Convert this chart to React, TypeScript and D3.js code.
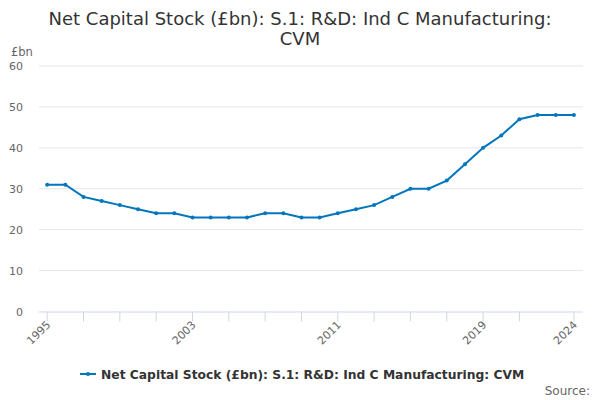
import React from 'react';
import * as d3 from 'd3';

const years = d3.range(1995, 2025);
const values = [31, 31, 28, 27, 26, 25, 24, 24, 23, 23, 23, 23, 24, 24, 23, 23, 24, 25, 26, 28, 30, 30, 32, 36, 40, 43, 47, 48, 48, 48];
const yTicks = [0, 10, 20, 30, 40, 50, 60];
const xTicks = [1995, 1997, 1999, 2001, 2003, 2005, 2007, 2009, 2011, 2013, 2015, 2017, 2019, 2021, 2024];
const xLabels = [1995, 2003, 2011, 2019, 2024];

const title = ['Net Capital Stock (£bn): S.1: R&D: Ind C Manufacturing:', 'CVM'];
const seriesName = 'Net Capital Stock (£bn): S.1: R&D: Ind C Manufacturing: CVM';

const font = '"DejaVu Sans", sans-serif';
const lineColor = '#0076bd';

const App = () => {
  const margin = { top: 66, right: 17, bottom: 88.5, left: 39 };
  const width = 600;
  const height = 400;

  const x = d3.scaleLinear().domain([1994.55, 2024.5]).range([margin.left, width - margin.right]);
  const y = d3.scaleLinear().domain([0, 60]).range([height - margin.bottom, margin.top]);

  const line = d3
    .line<number>()
    .x((d, i) => x(years[i]))
    .y((d) => y(d));

  return (
    <svg width={width} height={height} style={{ position: 'absolute', left: 0, top: 0, fontFamily: font }}>
      <rect width={width} height={height} fill="#fff" />
      {title.map((t, i) => (
        <text key={i} x={width / 2} y={25 + i * 20} textAnchor="middle" fontSize={18} fill="#333">
          {t}
        </text>
      ))}
      <text x={11} y={56} fontSize={11.5} fill="#666">
        £bn
      </text>
      {yTicks.map((t) => (
        <g key={t}>
          {t > 0 && <line x1={margin.left} x2={width - margin.right} y1={y(t)} y2={y(t)} stroke="#e6e6e6" />}
          <text x={23} y={y(t) + 4} textAnchor="end" fontSize={11} fill="#666">
            {t}
          </text>
        </g>
      ))}
      <line x1={margin.left} x2={width - margin.right} y1={y(0) + 0.5} y2={y(0) + 0.5} stroke="#ccd6eb" />
      {xTicks.map((t) => (
        <line key={t} x1={x(t)} x2={x(t)} y1={y(0)} y2={y(0) + 10} stroke="#ccd6eb" />
      ))}
      {xLabels.map((t) => (
        <text key={t} transform={`translate(${x(t) + 4},${y(0) + 14}) rotate(-45)`} textAnchor="end" fontSize={11} fill="#666">
          {t}
        </text>
      ))}
      <path d={line(values) ?? ''} fill="none" stroke={lineColor} strokeWidth={2} />
      {values.map((v, i) => (
        <circle key={i} cx={x(years[i])} cy={y(v)} r={2} fill={lineColor} />
      ))}
      <g>
        <line x1={80} x2={96} y1={374} y2={374} stroke={lineColor} strokeWidth={2} />
        <circle cx={88} cy={374} r={2} fill={lineColor} />
        <text x={101} y={378.5} fontSize={12.3} fontWeight="bold" fill="#333">
          {seriesName}
        </text>
      </g>
      <text x={590} y={395} textAnchor="end" fontSize={12} fill="#666">
        Source:
      </text>
    </svg>
  );
};

export default App;
